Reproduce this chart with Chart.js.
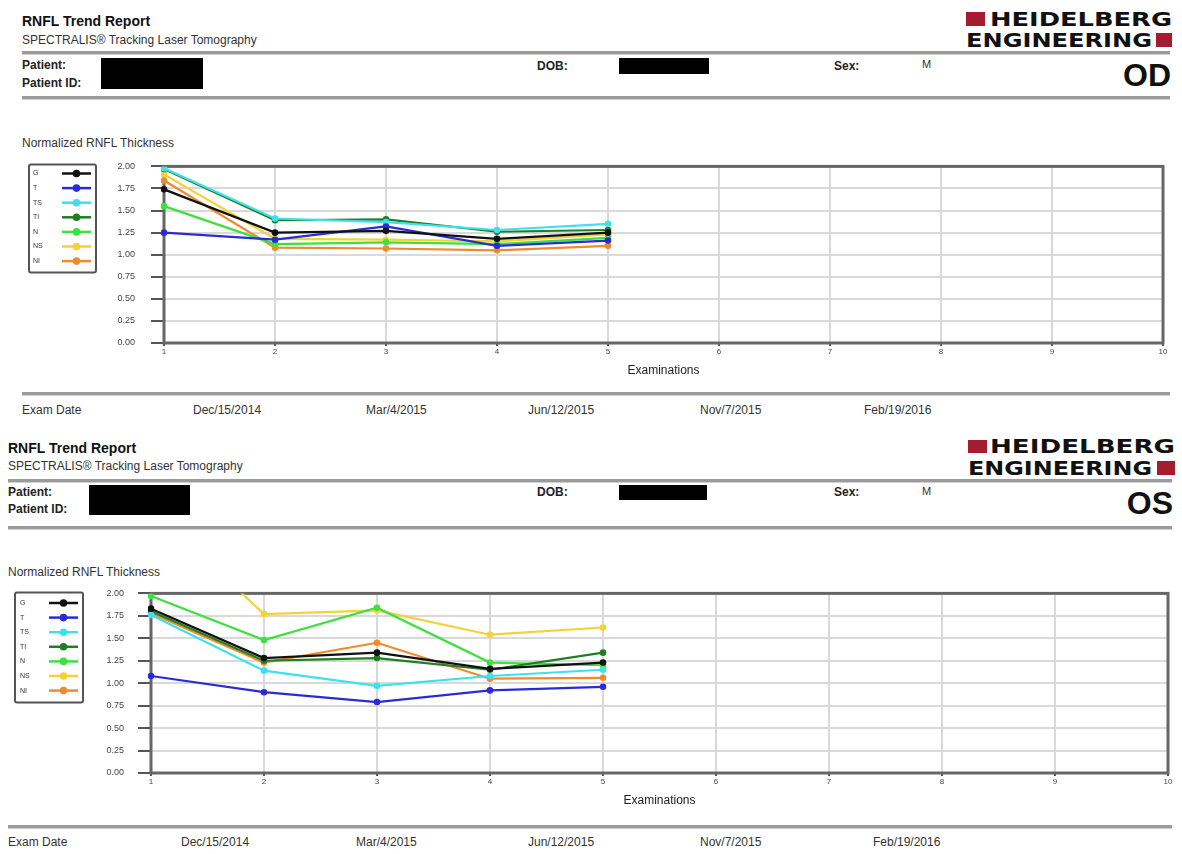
<!DOCTYPE html>
<html>
<head>
<meta charset="utf-8">
<title>RNFL Trend Report</title>
<script src="https://cdn.jsdelivr.net/npm/chart.js@4.4.1/dist/chart.umd.min.js"></script>
<style>
  html, body { margin: 0; padding: 0; background: #fff; }
  body { width: 1182px; height: 854px; position: relative; overflow: hidden;
         font-family: "Liberation Sans", Arial, sans-serif; color: #222; }
  .t { position: absolute; white-space: nowrap; line-height: 16px; }
  .title { font-weight: bold; font-size: 14px; color: #111; }
  .sub { font-size: 12px; color: #333; }
  .lbl { font-weight: bold; font-size: 12px; color: #222; }
  .val { font-size: 11px; color: #333; }
  .eye { font-weight: bold; font-size: 32px; line-height: 34px; color: #111; text-align: right; }
  .rule { position: absolute; height: 3px; background: #9b9b9b; border-bottom: 1px solid #cfcfcf; }
  .mask { position: absolute; background: #000; }
  .date { font-size: 12px; color: #333; }
  canvas { position: absolute; left: 0; }
  svg.logo { position: absolute; }
</style>
</head>
<body>

<!-- OD page -->
<div class="t title" style="left:22px;top:13px;">RNFL Trend Report</div>
<div class="t sub" style="left:22px;top:32px;">SPECTRALIS® Tracking Laser Tomography</div>
<svg class="logo" style="left:960px;top:6px;" width="222" height="46">
  <rect x="6" y="6" width="19" height="14" fill="#a51c30"/>
  <text x="30" y="20" font-family="DejaVu Sans" font-weight="bold" font-size="19" fill="#111" textLength="182" lengthAdjust="spacingAndGlyphs">HEIDELBERG</text>
  <text x="6" y="41" font-family="DejaVu Sans" font-weight="bold" font-size="19" fill="#111" textLength="186" lengthAdjust="spacingAndGlyphs">ENGINEERING</text>
  <rect x="196" y="27" width="16" height="14" fill="#a51c30"/>
</svg>
<div class="rule" style="left:22px;top:51px;width:1148px;"></div>
<div class="t lbl" style="left:22px;top:57px;">Patient:</div>
<div class="t lbl" style="left:22px;top:75px;">Patient ID:</div>
<div class="mask" style="left:101px;top:58px;width:102px;height:31px;"></div>
<div class="t lbl" style="left:537px;top:58px;">DOB:</div>
<div class="mask" style="left:619px;top:58px;width:90px;height:16px;"></div>
<div class="t lbl" style="left:834px;top:58px;">Sex:</div>
<div class="t val" style="left:922px;top:56px;">M</div>
<div class="t eye" style="right:11px;top:58px;">OD</div>
<div class="rule" style="left:22px;top:96px;width:1148px;"></div>
<div class="t sub" style="left:22px;top:135px;">Normalized RNFL Thickness</div>
<canvas id="chartOD" width="1182" height="245" style="top:145px;"></canvas>
<div class="rule" style="left:22px;top:392px;width:1148px;"></div>
<div id="datesOD"></div>

<!-- OS page -->
<div class="t title" style="left:8px;top:440px;">RNFL Trend Report</div>
<div class="t sub" style="left:8px;top:458px;">SPECTRALIS® Tracking Laser Tomography</div>
<svg class="logo" style="left:962px;top:434px;" width="220" height="46">
  <rect x="6" y="6" width="19" height="13" fill="#a51c30"/>
  <text x="28" y="19" font-family="DejaVu Sans" font-weight="bold" font-size="19" fill="#111" textLength="185" lengthAdjust="spacingAndGlyphs">HEIDELBERG</text>
  <text x="6" y="41" font-family="DejaVu Sans" font-weight="bold" font-size="19" fill="#111" textLength="184" lengthAdjust="spacingAndGlyphs">ENGINEERING</text>
  <rect x="195" y="27" width="18" height="14" fill="#a51c30"/>
</svg>
<div class="rule" style="left:8px;top:479px;width:1164px;"></div>
<div class="t lbl" style="left:8px;top:484px;">Patient:</div>
<div class="t lbl" style="left:8px;top:501px;">Patient ID:</div>
<div class="mask" style="left:89px;top:485px;width:101px;height:30px;"></div>
<div class="t lbl" style="left:537px;top:484px;">DOB:</div>
<div class="mask" style="left:619px;top:485px;width:88px;height:15px;"></div>
<div class="t lbl" style="left:834px;top:484px;">Sex:</div>
<div class="t val" style="left:922px;top:483px;">M</div>
<div class="t eye" style="right:9px;top:486px;">OS</div>
<div class="rule" style="left:8px;top:526px;width:1164px;"></div>
<div class="t sub" style="left:8px;top:564px;">Normalized RNFL Thickness</div>
<canvas id="chartOS" width="1182" height="246" style="top:574px;"></canvas>
<div class="rule" style="left:8px;top:825px;width:1164px;"></div>
<div id="datesOS"></div>

<script>
// Examination axis labels (1..10)
const examinations = ['1', '2', '3', '4', '5', '6', '7', '8', '9', '10'];

// Sector names and their line colours
const sectors = ['G', 'T', 'TS', 'TI', 'N', 'NS', 'NI'];
const sectorColors = ['#111111', '#2b2bd6', '#3fe0ee', '#1f7d22', '#3ee03e', '#f2d236', '#f08a2c'];

// Y axis tick values
const thicknessTicks = [0, 0.25, 0.5, 0.75, 1, 1.25, 1.5, 1.75, 2];

// Exam dates shown beneath each chart
const examDates = ['Dec/15/2014', 'Mar/4/2015', 'Jun/12/2015', 'Nov/7/2015', 'Feb/19/2016'];

// OD (right eye) normalized RNFL thickness per examination
const odG  = [1.74, 1.25, 1.27, 1.18, 1.25];
const odT  = [1.25, 1.17, 1.32, 1.10, 1.16];
const odTS = [1.98, 1.41, 1.37, 1.28, 1.35];
const odTI = [1.97, 1.39, 1.40, 1.26, 1.28];
const odN  = [1.55, 1.12, 1.14, 1.12, 1.19];
const odNS = [1.91, 1.18, 1.17, 1.15, 1.23];
const odNI = [1.84, 1.08, 1.07, 1.05, 1.10];

// OS (left eye) normalized RNFL thickness per examination
const osG  = [1.83, 1.28, 1.34, 1.16, 1.23];
const osT  = [1.08, 0.90, 0.79, 0.92, 0.96];
const osTS = [1.76, 1.14, 0.97, 1.08, 1.15];
const osTI = [1.80, 1.25, 1.28, 1.15, 1.34];
const osN  = [1.97, 1.48, 1.84, 1.23, 1.20];
const osNS = [2.95, 1.77, 1.81, 1.54, 1.62];
const osNI = [1.78, 1.23, 1.45, 1.05, 1.06];

const FONT = '"Liberation Sans", Arial, sans-serif';

// Exam date rows
function placeDates(id, xs, y) {
  const host = document.getElementById(id);
  const labels = ['Exam Date'].concat(examDates);
  labels.forEach((txt, i) => {
    const d = document.createElement('div');
    d.className = 't date';
    d.style.left = xs[i] + 'px';
    d.style.top = y + 'px';
    d.textContent = txt;
    host.appendChild(d);
  });
}
placeDates('datesOD', [22, 193, 366, 528, 700, 864], 402);
placeDates('datesOS', [8, 181, 356, 528, 700, 873], 834);

// Dark frame around the plotting area
const framePlugin = {
  id: 'plotFrame',
  beforeDatasetsDraw(chart) {
    const { ctx, chartArea: a } = chart;
    ctx.save();
    ctx.strokeStyle = '#666';
    ctx.lineWidth = 3;
    ctx.strokeRect(a.left, a.top, a.right - a.left, a.bottom - a.top);
    ctx.restore();
  }
};

// Boxed sector key: name on the left, line sample with marker on the right
const sectorKeyPlugin = {
  id: 'sectorKey',
  afterDraw(chart, args, opts) {
    const { ctx } = chart;
    const { x, y, w, h, firstRow, rowGap, textX, lineX0, lineX1 } = opts;
    ctx.save();
    ctx.strokeStyle = '#555';
    ctx.lineWidth = 2;
    ctx.beginPath();
    if (ctx.roundRect) ctx.roundRect(x, y, w, h, 2); else ctx.rect(x, y, w, h);
    ctx.stroke();
    ctx.font = '7px ' + FONT;
    ctx.textBaseline = 'middle';
    ctx.textAlign = 'left';
    chart.data.datasets.forEach((ds, i) => {
      const ry = y + firstRow + i * rowGap;
      ctx.fillStyle = '#333';
      ctx.fillText(ds.label, x + textX, ry);
      ctx.strokeStyle = ds.borderColor;
      ctx.lineWidth = 2.5;
      ctx.beginPath();
      ctx.moveTo(x + lineX0, ry);
      ctx.lineTo(x + lineX1, ry);
      ctx.stroke();
      ctx.fillStyle = ds.borderColor;
      ctx.beginPath();
      ctx.arc(x + (lineX0 + lineX1) / 2, ry, 3.8, 0, Math.PI * 2);
      ctx.fill();
    });
    ctx.restore();
  }
};

function buildChart(canvasId, values, g) {
  const datasets = sectors.map((name, i) => ({
    label: name,
    data: values[i],
    borderColor: sectorColors[i],
    backgroundColor: sectorColors[i],
    borderWidth: 2.2,
    pointRadius: 3.3,
    pointHoverRadius: 3.3,
    pointBorderWidth: 0,
    tension: 0
  }));
  return new Chart(document.getElementById(canvasId), {
    type: 'line',
    data: { labels: examinations, datasets },
    options: {
      responsive: false,
      animation: false,
      events: [],
      layout: { padding: { top: g.top, right: g.right, left: 0, bottom: 0 } },
      plugins: {
        legend: { display: false },
        tooltip: { enabled: false },
        sectorKey: g.key
      },
      scales: {
        x: {
          type: 'category',
          offset: false,
          grid: { color: '#d9d9d9', lineWidth: 2, tickColor: '#555', tickLength: 3 },
          border: { display: false },
          ticks: { font: { size: 8, family: FONT }, color: '#444', padding: 1, maxRotation: 0, autoSkip: false },
          title: { display: true, text: 'Examinations', font: { size: 12, family: FONT }, color: '#222', padding: { top: 0, bottom: g.titlePad } },
          afterFit: s => { s.height = g.xh; }
        },
        y: {
          min: 0,
          max: 2,
          afterBuildTicks: s => { s.ticks = thicknessTicks.map(v => ({ value: v })); },
          ticks: { callback: v => Number(v).toFixed(2), font: { size: 9, family: FONT }, color: '#444', padding: g.yPad },
          grid: { color: '#d9d9d9', lineWidth: 2, tickColor: '#555', tickLength: 13 },
          border: { display: false },
          afterFit: s => { s.width = g.yw; }
        }
      }
    },
    plugins: [framePlugin, sectorKeyPlugin]
  });
}

buildChart('chartOD', [odG, odT, odTS, odTI, odN, odNS, odNI], {
  top: 10, right: 19, xh: 47, yw: 164, yPad: 16, titlePad: 12,
  key: { x: 29, y: 19.5, w: 67, h: 108, firstRow: 9, rowGap: 14.6, textX: 4, lineX0: 33, lineX1: 62 }
});

buildChart('chartOS', [osG, osT, osTS, osTI, osN, osNS, osNI], {
  top: 9, right: 14, xh: 47, yw: 151, yPad: 14, titlePad: 12,
  key: { x: 15, y: 18.5, w: 68, h: 110, firstRow: 10.5, rowGap: 14.6, textX: 5, lineX0: 34, lineX1: 63 }
});
</script>
</body>
</html>
